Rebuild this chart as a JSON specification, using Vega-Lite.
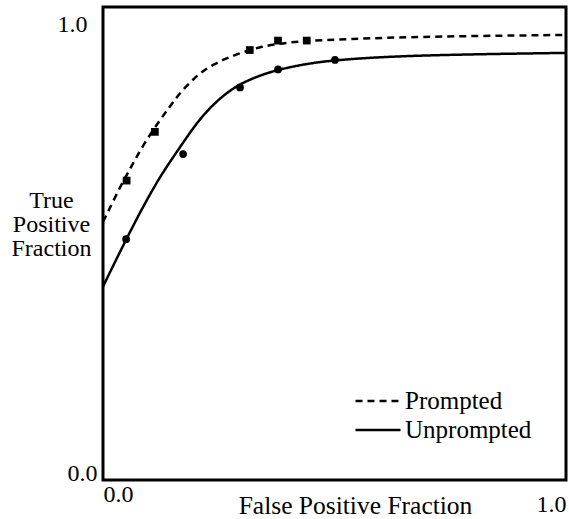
{
  "$schema": "https://vega.github.io/schema/vega-lite/v6.json",
  "width": 463,
  "height": 473,
  "autosize": {"type": "none"},
  "padding": {"left": 103, "top": 7, "right": 3, "bottom": 39},
  "background": "white",
  "config": {
    "view": {"stroke": "black", "strokeWidth": 3},
    "font": "Liberation Serif"
  },
  "datasets": {
    "curves": [
      {"series": "Prompted", "fpf": 0.0, "tpf": 0.546},
      {"series": "Prompted", "fpf": 0.011, "tpf": 0.567},
      {"series": "Prompted", "fpf": 0.037, "tpf": 0.620},
      {"series": "Prompted", "fpf": 0.062, "tpf": 0.664},
      {"series": "Prompted", "fpf": 0.087, "tpf": 0.709},
      {"series": "Prompted", "fpf": 0.123, "tpf": 0.761},
      {"series": "Prompted", "fpf": 0.141, "tpf": 0.785},
      {"series": "Prompted", "fpf": 0.156, "tpf": 0.805},
      {"series": "Prompted", "fpf": 0.173, "tpf": 0.826},
      {"series": "Prompted", "fpf": 0.195, "tpf": 0.847},
      {"series": "Prompted", "fpf": 0.213, "tpf": 0.863},
      {"series": "Prompted", "fpf": 0.238, "tpf": 0.878},
      {"series": "Prompted", "fpf": 0.263, "tpf": 0.890},
      {"series": "Prompted", "fpf": 0.289, "tpf": 0.900},
      {"series": "Prompted", "fpf": 0.317, "tpf": 0.909},
      {"series": "Prompted", "fpf": 0.343, "tpf": 0.916},
      {"series": "Prompted", "fpf": 0.375, "tpf": 0.922},
      {"series": "Prompted", "fpf": 0.440, "tpf": 0.929},
      {"series": "Prompted", "fpf": 0.533, "tpf": 0.932},
      {"series": "Prompted", "fpf": 0.657, "tpf": 0.937},
      {"series": "Prompted", "fpf": 1.0, "tpf": 0.941},
      {"series": "Unprompted", "fpf": 0.0, "tpf": 0.409},
      {"series": "Unprompted", "fpf": 0.050, "tpf": 0.509},
      {"series": "Unprompted", "fpf": 0.094, "tpf": 0.592},
      {"series": "Unprompted", "fpf": 0.130, "tpf": 0.652},
      {"series": "Unprompted", "fpf": 0.166, "tpf": 0.703},
      {"series": "Unprompted", "fpf": 0.195, "tpf": 0.745},
      {"series": "Unprompted", "fpf": 0.224, "tpf": 0.780},
      {"series": "Unprompted", "fpf": 0.253, "tpf": 0.807},
      {"series": "Unprompted", "fpf": 0.274, "tpf": 0.823},
      {"series": "Unprompted", "fpf": 0.296, "tpf": 0.837},
      {"series": "Unprompted", "fpf": 0.332, "tpf": 0.853},
      {"series": "Unprompted", "fpf": 0.379, "tpf": 0.868},
      {"series": "Unprompted", "fpf": 0.440, "tpf": 0.880},
      {"series": "Unprompted", "fpf": 0.501, "tpf": 0.888},
      {"series": "Unprompted", "fpf": 0.656, "tpf": 0.898},
      {"series": "Unprompted", "fpf": 1.0, "tpf": 0.903}
    ],
    "points": [
      {"grp": "Prompted", "fpf": 0.051, "tpf": 0.633},
      {"grp": "Prompted", "fpf": 0.112, "tpf": 0.736},
      {"grp": "Prompted", "fpf": 0.317, "tpf": 0.909},
      {"grp": "Prompted", "fpf": 0.378, "tpf": 0.929},
      {"grp": "Prompted", "fpf": 0.440, "tpf": 0.929},
      {"grp": "Unprompted", "fpf": 0.050, "tpf": 0.509},
      {"grp": "Unprompted", "fpf": 0.173, "tpf": 0.689},
      {"grp": "Unprompted", "fpf": 0.296, "tpf": 0.830},
      {"grp": "Unprompted", "fpf": 0.378, "tpf": 0.868},
      {"grp": "Unprompted", "fpf": 0.501, "tpf": 0.888}
    ]
  },
  "layer": [
    {
      "data": {"name": "curves"},
      "mark": {"type": "line", "interpolate": "basis", "color": "black", "strokeWidth": 2.5, "clip": true},
      "encoding": {
        "x": {
          "field": "fpf", "type": "quantitative",
          "scale": {"domain": [0, 1], "nice": false, "zero": false},
          "axis": {
            "title": "False Positive Fraction",
            "values": [0, 1], "format": ".1f",
            "ticks": false, "grid": false, "domain": false,
            "labelFont": "Liberation Serif", "labelFontSize": 24, "labelColor": "black",
            "labelFlush": false,
            "labelAlign": {"condition": {"test": "datum.value == 1", "value": "right"}, "value": "left"},
            "labelBaseline": "top",
            "labelPadding": {"condition": {"test": "datum.value == 1", "value": 12}, "value": 2},
            "titleFont": "Liberation Serif", "titleFontSize": 25.5, "titleFontWeight": "normal", "titleColor": "black",
            "titleAlign": "center", "titleAnchor": "start", "titleX": 252, "titleY": 33, "titleBaseline": "alphabetic"
          }
        },
        "y": {
          "field": "tpf", "type": "quantitative",
          "scale": {"domain": [0, 1], "nice": false, "zero": false},
          "axis": {
            "title": ["True", "Positive", "Fraction"],
            "values": [0, 1], "format": ".1f",
            "ticks": false, "grid": false, "domain": false,
            "labelFont": "Liberation Serif", "labelFontSize": 24, "labelColor": "black",
            "labelFlush": false,
            "labelAlign": "right",
            "labelBaseline": {"condition": {"test": "datum.value == 1", "value": "top"}, "value": "alphabetic"},
            "labelOffset": {"condition": {"test": "datum.value == 1", "value": 5}, "value": 0},
            "labelPadding": {"condition": {"test": "datum.value == 1", "value": 16}, "value": 6},
            "titleFont": "Liberation Serif", "titleFontSize": 24, "titleFontWeight": "normal", "titleColor": "black",
            "titleAngle": 0, "titleAlign": "center", "titleAnchor": "start",
            "titleX": -52, "titleY": 200, "titleBaseline": "alphabetic", "titleLineHeight": 24
          }
        },
        "strokeDash": {
          "field": "series", "type": "nominal",
          "scale": {"domain": ["Prompted", "Unprompted"], "range": [[7, 5], [1, 0]]},
          "legend": {
            "title": null, "orient": "none", "legendX": 262.5, "legendY": 381.5,
            "padding": 0, "rowPadding": 3,
            "symbolType": "M-2.5,0L2.5,0", "symbolSize": 324, "symbolStrokeWidth": 2.5,
            "symbolStrokeColor": "black", "symbolFillColor": "transparent",
            "labelFont": "Liberation Serif", "labelFontSize": 25, "labelColor": "black", "labelOffset": 14.5
          }
        }
      }
    },
    {
      "data": {"name": "points"},
      "transform": [{"filter": "datum.grp == 'Prompted'"}],
      "mark": {"type": "point", "shape": "square", "filled": true, "color": "black", "opacity": 1, "size": 60},
      "encoding": {
        "x": {"field": "fpf", "type": "quantitative"},
        "y": {"field": "tpf", "type": "quantitative"}
      }
    },
    {
      "data": {"name": "points"},
      "transform": [{"filter": "datum.grp == 'Unprompted'"}],
      "mark": {"type": "point", "shape": "circle", "filled": true, "color": "black", "opacity": 1, "size": 60},
      "encoding": {
        "x": {"field": "fpf", "type": "quantitative"},
        "y": {"field": "tpf", "type": "quantitative"}
      }
    }
  ]
}
